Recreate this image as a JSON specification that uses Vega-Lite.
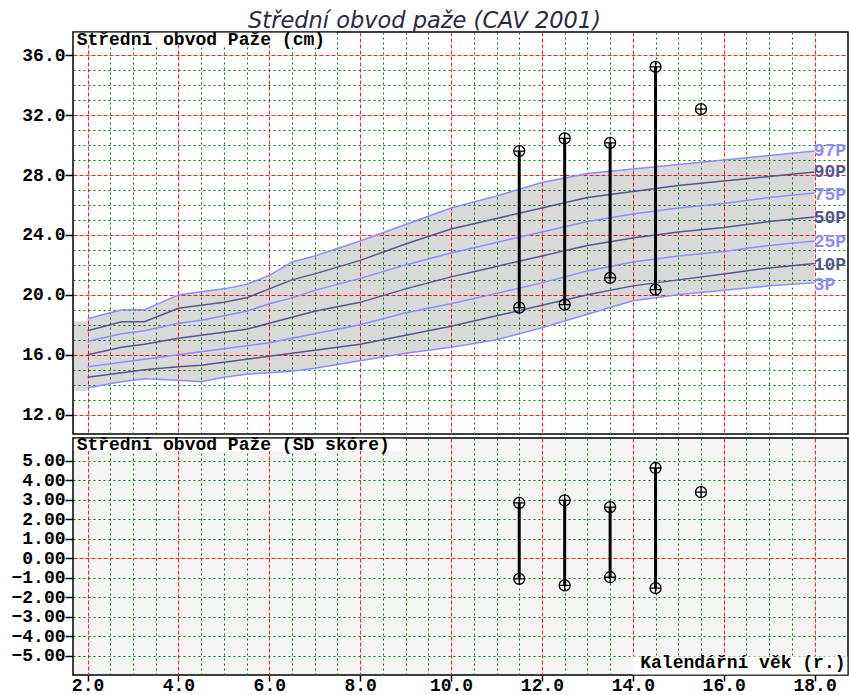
{
  "$schema": "https://vega.github.io/schema/vega-lite/v6.json",
  "background": "white",
  "padding": {"left": 0, "top": 9, "right": 2, "bottom": 0},
  "title": {"text": "Střední obvod paže (CAV 2001)", "font": "DejaVu Sans", "fontSize": 22.5, "fontStyle": "italic", "fontWeight": "normal", "color": "#2a2a40", "anchor": "middle", "offset": 0, "dy": 2},
  "config": {
    "view": {"stroke": "black", "strokeWidth": 1.5},
    "axis": {"labelFont": "Liberation Mono", "labelFontWeight": "bold", "labelFontSize": 18, "labelColor": "black", "tickColor": "black", "tickWidth": 1.5, "domain": false, "labelOverlap": false, "labelFlush": false, "labelBound": false, "gridWidth": 1, "gridOpacity": 1, "tickCount": 200}
  },
  "datasets": {
    "pct": [
      {"age": 2.0, "p97": 18.4, "p90": 17.6, "p75": 16.9, "p50": 16.0, "p25": 15.2, "p10": 14.5, "p3": 13.8},
      {"age": 2.75, "p97": 19.0, "p90": 18.2, "p75": 17.4, "p50": 16.5, "p25": 15.5, "p10": 14.8, "p3": 14.2},
      {"age": 3.25, "p97": 19.0, "p90": 18.2, "p75": 17.6, "p50": 16.7, "p25": 15.7, "p10": 15.0, "p3": 14.4},
      {"age": 4.0, "p97": 20.0, "p90": 19.1, "p75": 18.1, "p50": 17.1, "p25": 16.0, "p10": 15.2, "p3": 14.3},
      {"age": 4.5, "p97": 20.2, "p90": 19.3, "p75": 18.3, "p50": 17.3, "p25": 16.2, "p10": 15.3, "p3": 14.2},
      {"age": 5.0, "p97": 20.4, "p90": 19.5, "p75": 18.6, "p50": 17.5, "p25": 16.4, "p10": 15.5, "p3": 14.5},
      {"age": 5.5, "p97": 20.7, "p90": 19.8, "p75": 18.9, "p50": 17.7, "p25": 16.6, "p10": 15.7, "p3": 14.7},
      {"age": 6.0, "p97": 21.3, "p90": 20.4, "p75": 19.4, "p50": 18.1, "p25": 16.8, "p10": 15.9, "p3": 14.8},
      {"age": 6.5, "p97": 22.2, "p90": 21.0, "p75": 19.8, "p50": 18.5, "p25": 17.1, "p10": 16.1, "p3": 14.9},
      {"age": 7.0, "p97": 22.6, "p90": 21.4, "p75": 20.3, "p50": 18.9, "p25": 17.4, "p10": 16.3, "p3": 15.1},
      {"age": 8.0, "p97": 23.6, "p90": 22.3, "p75": 21.1, "p50": 19.5, "p25": 18.0, "p10": 16.7, "p3": 15.6},
      {"age": 9.0, "p97": 24.7, "p90": 23.4, "p75": 22.0, "p50": 20.4, "p25": 18.8, "p10": 17.3, "p3": 16.1},
      {"age": 10.0, "p97": 25.8, "p90": 24.4, "p75": 22.8, "p50": 21.2, "p25": 19.4, "p10": 17.9, "p3": 16.5},
      {"age": 11.0, "p97": 26.6, "p90": 25.1, "p75": 23.5, "p50": 21.9, "p25": 20.1, "p10": 18.6, "p3": 17.0},
      {"age": 12.0, "p97": 27.5, "p90": 25.8, "p75": 24.2, "p50": 22.6, "p25": 20.8, "p10": 19.3, "p3": 17.8},
      {"age": 13.0, "p97": 28.1, "p90": 26.5, "p75": 24.9, "p50": 23.3, "p25": 21.6, "p10": 20.0, "p3": 18.7},
      {"age": 14.0, "p97": 28.4, "p90": 26.9, "p75": 25.4, "p50": 23.8, "p25": 22.2, "p10": 20.6, "p3": 19.6},
      {"age": 15.0, "p97": 28.7, "p90": 27.3, "p75": 25.8, "p50": 24.2, "p25": 22.6, "p10": 21.0, "p3": 20.0},
      {"age": 16.0, "p97": 29.0, "p90": 27.6, "p75": 26.1, "p50": 24.5, "p25": 22.9, "p10": 21.4, "p3": 20.3},
      {"age": 17.0, "p97": 29.3, "p90": 27.9, "p75": 26.5, "p50": 24.9, "p25": 23.3, "p10": 21.8, "p3": 20.6},
      {"age": 18.0, "p97": 29.6, "p90": 28.2, "p75": 26.8, "p50": 25.2, "p25": 23.6, "p10": 22.1, "p3": 20.8}
    ],
    "band_left": [
      {"age": 1.68, "lo": 13.58, "hi": 18.24},
      {"age": 2.0, "lo": 13.58, "hi": 18.24}
    ],
    "labels": [
      {"k": "p97", "t": "97P", "v": 29.63},
      {"k": "p90", "t": "90P", "v": 28.2},
      {"k": "p75", "t": "75P", "v": 26.7},
      {"k": "p50", "t": "50P", "v": 25.13},
      {"k": "p25", "t": "25P", "v": 23.55},
      {"k": "p10", "t": "10P", "v": 22.0},
      {"k": "p3", "t": "3P", "v": 20.67}
    ],
    "bars": [
      {"age": 11.5, "cm_lo": 19.15, "cm_hi": 29.6, "sd_lo": -1.06, "sd_hi": 2.84},
      {"age": 12.5, "cm_lo": 19.35, "cm_hi": 30.45, "sd_lo": -1.4, "sd_hi": 2.97},
      {"age": 13.5, "cm_lo": 21.13, "cm_hi": 30.15, "sd_lo": -0.98, "sd_hi": 2.62},
      {"age": 14.5, "cm_lo": 20.35, "cm_hi": 35.22, "sd_lo": -1.54, "sd_hi": 4.63}
    ],
    "pts": [
      {"age": 11.5, "cm": 29.6, "sd": 2.84},
      {"age": 11.5, "cm": 19.15, "sd": -1.06},
      {"age": 12.5, "cm": 30.45, "sd": 2.97},
      {"age": 12.5, "cm": 19.35, "sd": -1.4},
      {"age": 13.5, "cm": 30.15, "sd": 2.62},
      {"age": 13.5, "cm": 21.13, "sd": -0.98},
      {"age": 14.5, "cm": 35.22, "sd": 4.63},
      {"age": 14.5, "cm": 20.35, "sd": -1.54},
      {"age": 15.5, "cm": 32.4, "sd": 3.39}
    ],
    "one": [{}]
  },
  "spacing": 0,
  "vconcat": [
    {
      "width": 775,
      "height": 402,
      "layer": [
        {
          "data": {"name": "band_left"},
          "mark": {"type": "area", "color": "black", "fillOpacity": 0.15},
          "encoding": {
            "x": {"field": "age", "type": "quantitative", "scale": {"domain": [1.68, 18.735], "nice": false, "zero": false},
              "axis": {"values": [2, 2.5, 3, 3.5, 4, 4.5, 5, 5.5, 6, 6.5, 7, 7.5, 8, 8.5, 9, 9.5, 10, 10.5, 11, 11.5, 12, 12.5, 13, 13.5, 14, 14.5, 15, 15.5, 16, 16.5, 17, 17.5, 18],
                "grid": true, "labels": false, "ticks": false, "title": null, "minExtent": 0, "maxExtent": 0, "tickCount": 200,
                "gridColor": {"condition": {"test": "datum.value % 2 === 0", "value": "#ff2020"}, "value": "#007a00"},
                "gridDash": {"condition": {"test": "datum.value % 2 === 0", "value": [4, 2]}, "value": [2, 3]}}},
            "y": {"field": "lo", "type": "quantitative", "scale": {"domain": [10.71, 37.55], "nice": false, "zero": false},
              "axis": {"values": [12, 13, 14, 15, 16, 17, 18, 19, 20, 21, 22, 23, 24, 25, 26, 27, 28, 29, 30, 31, 32, 33, 34, 35, 36],
                "grid": true, "title": null, "tickSize": 8, "labelPadding": 0, "minExtent": 72, "maxExtent": 72, "tickCount": 200,
                "labelExpr": "datum.value % 4 === 0 ? format(datum.value, '.1f') : ''",
                "tickOpacity": {"condition": {"test": "datum.value % 4 === 0", "value": 1}, "value": 0},
                "gridColor": {"condition": {"test": "datum.value % 4 === 0", "value": "#ff2020"}, "value": "#007a00"},
                "gridDash": {"condition": {"test": "datum.value % 4 === 0", "value": [4, 2]}, "value": [2, 3]}}},
            "y2": {"field": "hi"}
          }
        },
        {
          "data": {"name": "pct"},
          "mark": {"type": "area", "color": "black", "fillOpacity": 0.15},
          "encoding": {
            "x": {"field": "age", "type": "quantitative"},
            "y": {"field": "p3", "type": "quantitative"},
            "y2": {"field": "p97"}
          }
        },
        {
          "data": {"name": "pct"},
          "transform": [{"fold": ["p97", "p90", "p75", "p50", "p25", "p10", "p3"], "as": ["pct", "cm"]}],
          "mark": {"type": "line", "strokeWidth": 1.5},
          "encoding": {
            "x": {"field": "age", "type": "quantitative"},
            "y": {"field": "cm", "type": "quantitative"},
            "color": {"field": "pct", "type": "nominal", "legend": null,
              "scale": {"domain": ["p97", "p90", "p75", "p50", "p25", "p10", "p3"], "range": ["#8c8cff", "#55558f", "#8c8cff", "#55558f", "#8c8cff", "#55558f", "#8c8cff"]}}
          }
        },
        {
          "data": {"name": "one"},
          "mark": {"type": "rect", "color": "white"},
          "encoding": {
            "x": {"datum": 1.7, "type": "quantitative"},
            "x2": {"datum": 7.47},
            "y": {"datum": 37.5, "type": "quantitative"},
            "y2": {"datum": 36.68}
          }
        },
        {
          "data": {"name": "one"},
          "mark": {"type": "text", "text": "Střední obvod Paže (cm)", "font": "Liberation Mono", "fontWeight": "bold", "fontSize": 18, "align": "left", "baseline": "middle", "color": "black"},
          "encoding": {
            "x": {"datum": 1.76, "type": "quantitative"},
            "y": {"datum": 37.0, "type": "quantitative"}
          }
        },
        {
          "data": {"name": "labels"},
          "mark": {"type": "text", "font": "Liberation Mono", "fontWeight": "bold", "fontSize": 18, "align": "left", "baseline": "middle"},
          "encoding": {
            "x": {"datum": 17.98, "type": "quantitative"},
            "y": {"field": "v", "type": "quantitative"},
            "text": {"field": "t"},
            "color": {"field": "k", "type": "nominal", "legend": null}
          }
        },
        {
          "data": {"name": "bars"},
          "mark": {"type": "rule", "color": "black", "strokeWidth": 3},
          "encoding": {
            "x": {"field": "age", "type": "quantitative"},
            "y": {"field": "cm_lo", "type": "quantitative"},
            "y2": {"field": "cm_hi"}
          }
        },
        {
          "data": {"name": "pts"},
          "mark": {"type": "point", "shape": "M-1,0A1,1,0,1,1,1,0A1,1,0,1,1,-1,0ZM-1,0L1,0M0,-1L0,1", "filled": false, "stroke": "black", "strokeWidth": 1.3, "size": 120, "opacity": 1},
          "encoding": {
            "x": {"field": "age", "type": "quantitative"},
            "y": {"field": "cm", "type": "quantitative"}
          }
        }
      ]
    },
    {
      "width": 775,
      "height": 237,
      "view": {"fill": "#f4f4f4", "stroke": "black", "strokeWidth": 1.5},
      "layer": [
        {
          "data": {"name": "bars"},
          "mark": {"type": "rule", "color": "black", "strokeWidth": 3},
          "encoding": {
            "x": {"field": "age", "type": "quantitative", "scale": {"domain": [1.68, 18.735], "nice": false, "zero": false},
              "axis": {"values": [2, 2.5, 3, 3.5, 4, 4.5, 5, 5.5, 6, 6.5, 7, 7.5, 8, 8.5, 9, 9.5, 10, 10.5, 11, 11.5, 12, 12.5, 13, 13.5, 14, 14.5, 15, 15.5, 16, 16.5, 17, 17.5, 18],
                "grid": true, "title": null, "tickSize": 6, "labelPadding": -5, "tickCount": 200,
                "labelExpr": "datum.value % 2 === 0 ? format(datum.value, '.1f') : ''",
                "tickOpacity": {"condition": {"test": "datum.value % 2 === 0", "value": 1}, "value": 0},
                "gridColor": {"condition": {"test": "datum.value % 2 === 0", "value": "#ff2020"}, "value": "#007a00"},
                "gridDash": {"condition": {"test": "datum.value % 2 === 0", "value": [4, 2]}, "value": [2, 3]}}},
            "y": {"field": "sd_lo", "type": "quantitative", "scale": {"domain": [-6.0, 6.17], "nice": false, "zero": false},
              "axis": {"values": [-5, -4, -3, -2, -1, 0, 1, 2, 3, 4, 5], "format": ".2f", "tickCount": 200,
                "grid": true, "title": null, "tickSize": 8, "labelPadding": 0, "minExtent": 72, "maxExtent": 72,
                "gridColor": {"condition": {"test": "datum.value === 0", "value": "#ff2020"}, "value": "#007a00"},
                "gridDash": {"condition": {"test": "datum.value === 0", "value": [4, 2]}, "value": [2, 3]}}},
            "y2": {"field": "sd_hi"}
          }
        },
        {
          "data": {"name": "pts"},
          "mark": {"type": "point", "shape": "M-1,0A1,1,0,1,1,1,0A1,1,0,1,1,-1,0ZM-1,0L1,0M0,-1L0,1", "filled": false, "stroke": "black", "strokeWidth": 1.3, "size": 120, "opacity": 1},
          "encoding": {
            "x": {"field": "age", "type": "quantitative"},
            "y": {"field": "sd", "type": "quantitative"}
          }
        },
        {
          "data": {"name": "one"},
          "mark": {"type": "rect", "color": "white"},
          "encoding": {
            "x": {"datum": 1.7, "type": "quantitative"},
            "x2": {"datum": 8.95},
            "y": {"datum": 6.13, "type": "quantitative"},
            "y2": {"datum": 5.5}
          }
        },
        {
          "data": {"name": "one"},
          "mark": {"type": "text", "text": "Střední obvod Paže (SD skóre)", "font": "Liberation Mono", "fontWeight": "bold", "fontSize": 18, "align": "left", "baseline": "middle", "color": "black"},
          "encoding": {
            "x": {"datum": 1.76, "type": "quantitative"},
            "y": {"datum": 5.8, "type": "quantitative"}
          }
        },
        {
          "data": {"name": "one"},
          "mark": {"type": "rect", "color": "white"},
          "encoding": {
            "x": {"datum": 14.0, "type": "quantitative"},
            "x2": {"datum": 18.72},
            "y": {"datum": -5.05, "type": "quantitative"},
            "y2": {"datum": -5.97}
          }
        },
        {
          "data": {"name": "one"},
          "mark": {"type": "text", "text": "Kalendářní věk (r.)", "font": "Liberation Mono", "fontWeight": "bold", "fontSize": 18, "align": "right", "baseline": "middle", "color": "black"},
          "encoding": {
            "x": {"datum": 18.68, "type": "quantitative"},
            "y": {"datum": -5.4, "type": "quantitative"}
          }
        }
      ]
    }
  ]
}
